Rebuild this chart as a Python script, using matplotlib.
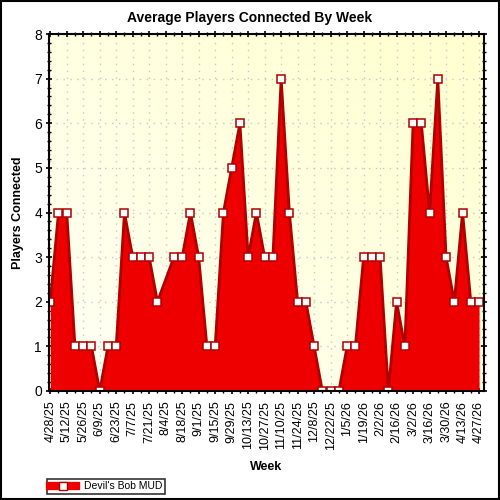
import matplotlib
matplotlib.use("Agg")
import matplotlib.pyplot as plt
import numpy as np
from matplotlib.lines import Line2D
from matplotlib.patches import Rectangle

# weekly labels, 4/28/25 .. 4/27/26
weeks = ["4/28/25", "5/5/25", "5/12/25", "5/19/25", "5/26/25", "6/2/25", "6/9/25",
         "6/16/25", "6/23/25", "6/30/25", "7/7/25", "7/14/25", "7/21/25", "7/28/25",
         "8/4/25", "8/11/25", "8/18/25", "8/25/25", "9/1/25", "9/8/25", "9/15/25",
         "9/22/25", "9/29/25", "10/6/25", "10/13/25", "10/20/25", "10/27/25", "11/3/25",
         "11/10/25", "11/17/25", "11/24/25", "12/1/25", "12/8/25", "12/15/25", "12/22/25",
         "12/29/25", "1/5/26", "1/12/26", "1/19/26", "1/26/26", "2/2/26", "2/9/26",
         "2/16/26", "2/23/26", "3/2/26", "3/9/26", "3/16/26", "3/23/26", "3/30/26",
         "4/6/26", "4/13/26", "4/20/26", "4/27/26"]

# average players per week (None = no data that week)
players = [2, 4, 4, 1, 1, 1, 0, 1, 1, 4, 3, 3, 3, 2,
           None, 3, 3, 4, 3, 1, 1, 4, 5, 6, 3, 4, 3, 3,
           7, 4, 2, 2, 1, 0, 0, 0, 1, 1, 3, 3, 3, 0,
           2, 1, 6, 6, 4, 7, 3, 2, 4, 2, 2]

series_name = "Devil's Bob MUD"

plt.rcParams['font.family'] = ['Liberation Sans', 'DejaVu Sans']

x = np.array([i for i, v in enumerate(players) if v is not None])
y = np.array([v for v in players if v is not None], dtype=float)

fig = plt.figure(figsize=(5, 5), dpi=100)
ax = fig.add_axes([0.098, 0.218, 0.870, 0.714])

xmin, xmax = -0.15, 52.6
ymin, ymax = 0, 8

# light yellow gradient background
gx, gy = np.meshgrid(np.linspace(0, 1, 200), np.linspace(0, 1, 200))
g = (gx + gy) / 2.0
bg = np.zeros((200, 200, 3))
bg[..., 0] = 1.0
bg[..., 1] = 1.0
bg[..., 2] = 0.96 - 0.15 * g
ax.imshow(bg, extent=[xmin, xmax, ymin, ymax], origin='lower', aspect='auto', zorder=0)

ax.set_xlim(xmin, xmax)
ax.set_ylim(ymin, ymax)

ax.fill_between(x, y, 0, color='#ee0000', linewidth=0, zorder=2)
ax.plot(x, y, color='#b00000', linewidth=2.0, zorder=3)
ax.plot(x, y, linestyle='none', marker='s', markersize=5.8, markerfacecolor='white',
        markeredgecolor='#b00000', markeredgewidth=1.1, zorder=4)

major = np.arange(0, len(weeks), 2)
ax.set_xticks(major)
ax.set_xticklabels([weeks[i] for i in major], rotation=90, fontsize=9)
ax.set_xticks(np.arange(0, len(weeks)), minor=True)
ax.set_yticks(np.arange(0, 9))
ax.set_yticklabels([str(v) for v in range(9)], fontsize=10)
ax.set_yticks(np.arange(0, 8.01, 0.2), minor=True)

ax.tick_params(axis='both', which='major', length=4, width=1.2, direction='inout',
               top=True, right=True, pad=3)
ax.tick_params(axis='both', which='minor', length=2.5, width=1, direction='inout',
               top=True, right=True)
ax.tick_params(axis='x', which='major', pad=5)

ax.grid(True, which='major', color='#c8c8c8', linestyle=(0, (1, 4)), linewidth=1, zorder=1)
for s in ax.spines.values():
    s.set_linewidth(1.5)
    s.set_zorder(5)

fig.suptitle("Average Players Connected By Week", x=0.5, y=1 - 18 / 500.0,
             va='center', fontsize=10, fontweight='bold')
ax.set_ylabel("Players Connected", fontsize=9, fontweight='bold', labelpad=7)
ax.set_xlabel("Week", fontsize=9, fontweight='bold', labelpad=8)

handle = Line2D([], [], color='#ee0000', linewidth=6, marker='s', markersize=6,
                markerfacecolor='white', markeredgecolor='#b00000')
leg = fig.legend([handle], [series_name], loc='lower left', bbox_to_anchor=(0.094, 0.012),
                 fontsize=7.5, frameon=True, fancybox=False, handlelength=2.5,
                 borderpad=0.25, handletextpad=0.8, borderaxespad=0)
leg.get_frame().set_edgecolor('black')
leg.get_frame().set_linewidth(1.2)

# outer border of the picture
fig.patches.append(Rectangle((0.002, 0.002), 0.996, 0.996, transform=fig.transFigure,
                             fill=False, edgecolor='black', linewidth=1.5))

fig.savefig("out.png", dpi=100)
